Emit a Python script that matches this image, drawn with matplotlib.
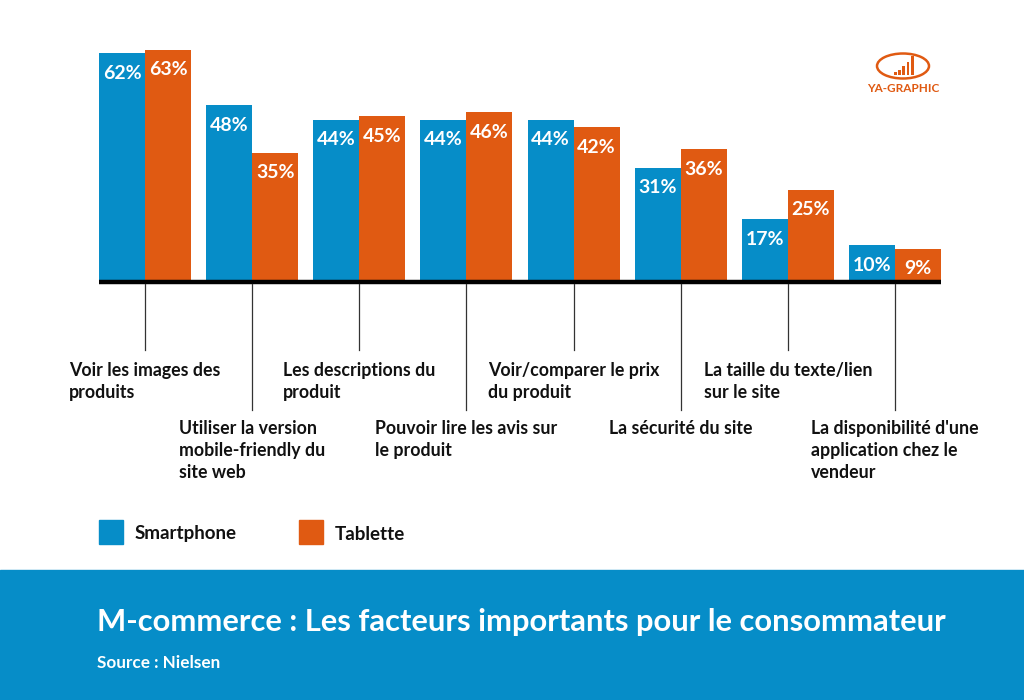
import matplotlib
matplotlib.use("Agg")
import numpy as np
import matplotlib.pyplot as plt
from matplotlib.patches import Rectangle, Ellipse

categories = [
    "Voir les images des\nproduits",
    "Utiliser la version\nmobile-friendly du\nsite web",
    "Les descriptions du\nproduit",
    "Pouvoir lire les avis sur\nle produit",
    "Voir/comparer le prix\ndu produit",
    "La sécurité du site",
    "La taille du texte/lien\nsur le site",
    "La disponibilité d'une\napplication chez le\nvendeur",
]
smartphone = [62, 48, 44, 44, 44, 31, 17, 10]
tablette = [63, 35, 45, 46, 42, 36, 25, 9]

BLUE = "#068DC8"
ORANGE = "#E05A12"
W, H = 1024, 700

plt.rcParams['font.family'] = ['Lato', 'DejaVu Sans']

fig = plt.figure(figsize=(W / 100, H / 100), dpi=100)
fig.patch.set_facecolor("white")

# bar axes: pixel box x 99..941, baseline at y=282 from top, 1% = 3.69 px
ymax = 65
left, right, base = 99, 941, 282
px = 3.69
top = base - ymax * px
ax = fig.add_axes([left / W, (H - base) / H, (right - left) / W, (base - top) / H])
ax.set_xlim(-0.429, len(categories) - 1 + 0.429)
ax.set_ylim(0, ymax)
ax.axis("off")

x = np.arange(len(categories))
bw = 0.429
ax.bar(x - bw / 2, smartphone, bw, color=BLUE, linewidth=0)
ax.bar(x + bw / 2, tablette, bw, color=ORANGE, linewidth=0)

for xi, v in zip(x - bw / 2, smartphone):
    ax.annotate(f"{v}%", (xi, v), xytext=(0, -14.5), textcoords="offset points",
                ha="center", va="center", color="white", fontsize=14, fontweight="bold")
for xi, v in zip(x + bw / 2, tablette):
    ax.annotate(f"{v}%", (xi, v), xytext=(0, -14.5), textcoords="offset points",
                ha="center", va="center", color="white", fontsize=14, fontweight="bold")

# baseline
ax.plot([-0.429, len(categories) - 1 + 0.429], [0, 0], color="black", lw=3.2,
        clip_on=False, solid_capstyle="butt")

# ticks and category labels, alternating short / long
for i, lab in enumerate(categories):
    if i % 2 == 0:
        tick_end = -(350 - base) / px
        text_top = -(362 - base) / px
    else:
        tick_end = -(410 - base) / px
        text_top = -(420 - base) / px
    ax.plot([i, i], [-0.6, tick_end], color="#333333", lw=0.9, clip_on=False)
    ax.text(i, text_top, lab, ha="center", va="top", multialignment="left",
            fontsize=12.8, fontweight="bold", color="#111111", linespacing=1.36,
            clip_on=False)

# legend
fig.patches.append(Rectangle((99 / W, (H - 544) / H), 24 / W, 24 / H,
                             transform=fig.transFigure, color=BLUE))
fig.text(135 / W, (H - 534) / H, "Smartphone", fontsize=13.5, fontweight="bold",
         va="center", color="#111111")
fig.patches.append(Rectangle((299 / W, (H - 544) / H), 24 / W, 24 / H,
                             transform=fig.transFigure, color=ORANGE))
fig.text(335 / W, (H - 534) / H, "Tablette", fontsize=13.5, fontweight="bold",
         va="center", color="#111111")

# footer band
fig.patches.append(Rectangle((0, 0), 1, 130 / H, transform=fig.transFigure,
                             color=BLUE, zorder=0))
fig.text(97 / W, (H - 622) / H, "M-commerce : Les facteurs importants pour le consommateur",
         fontsize=22.2, fontweight="bold", color="white", va="center")
fig.text(97 / W, (H - 663) / H, "Source : Nielsen", fontsize=12.3, fontweight="bold",
         color="white", va="center")

# logo
lax = fig.add_axes([0, 0, 1, 1], zorder=-1)
lax.set_xlim(0, W)
lax.set_ylim(H, 0)
lax.axis("off")
lax.add_patch(Ellipse((903, 66), 52, 25, fill=False, edgecolor=ORANGE, lw=1.8))
logo_h = [3, 5, 9, 13, 19]
for k, h in enumerate(logo_h):
    lax.add_patch(Rectangle((894 + k * 4.2, 75 - h), 2.8, h, color=ORANGE, lw=0))
lax.text(903, 88, "YA-GRAPHIC", ha="center", va="center", fontsize=8.5,
         fontweight="bold", color=ORANGE)

fig.savefig("out.png", dpi=100)
